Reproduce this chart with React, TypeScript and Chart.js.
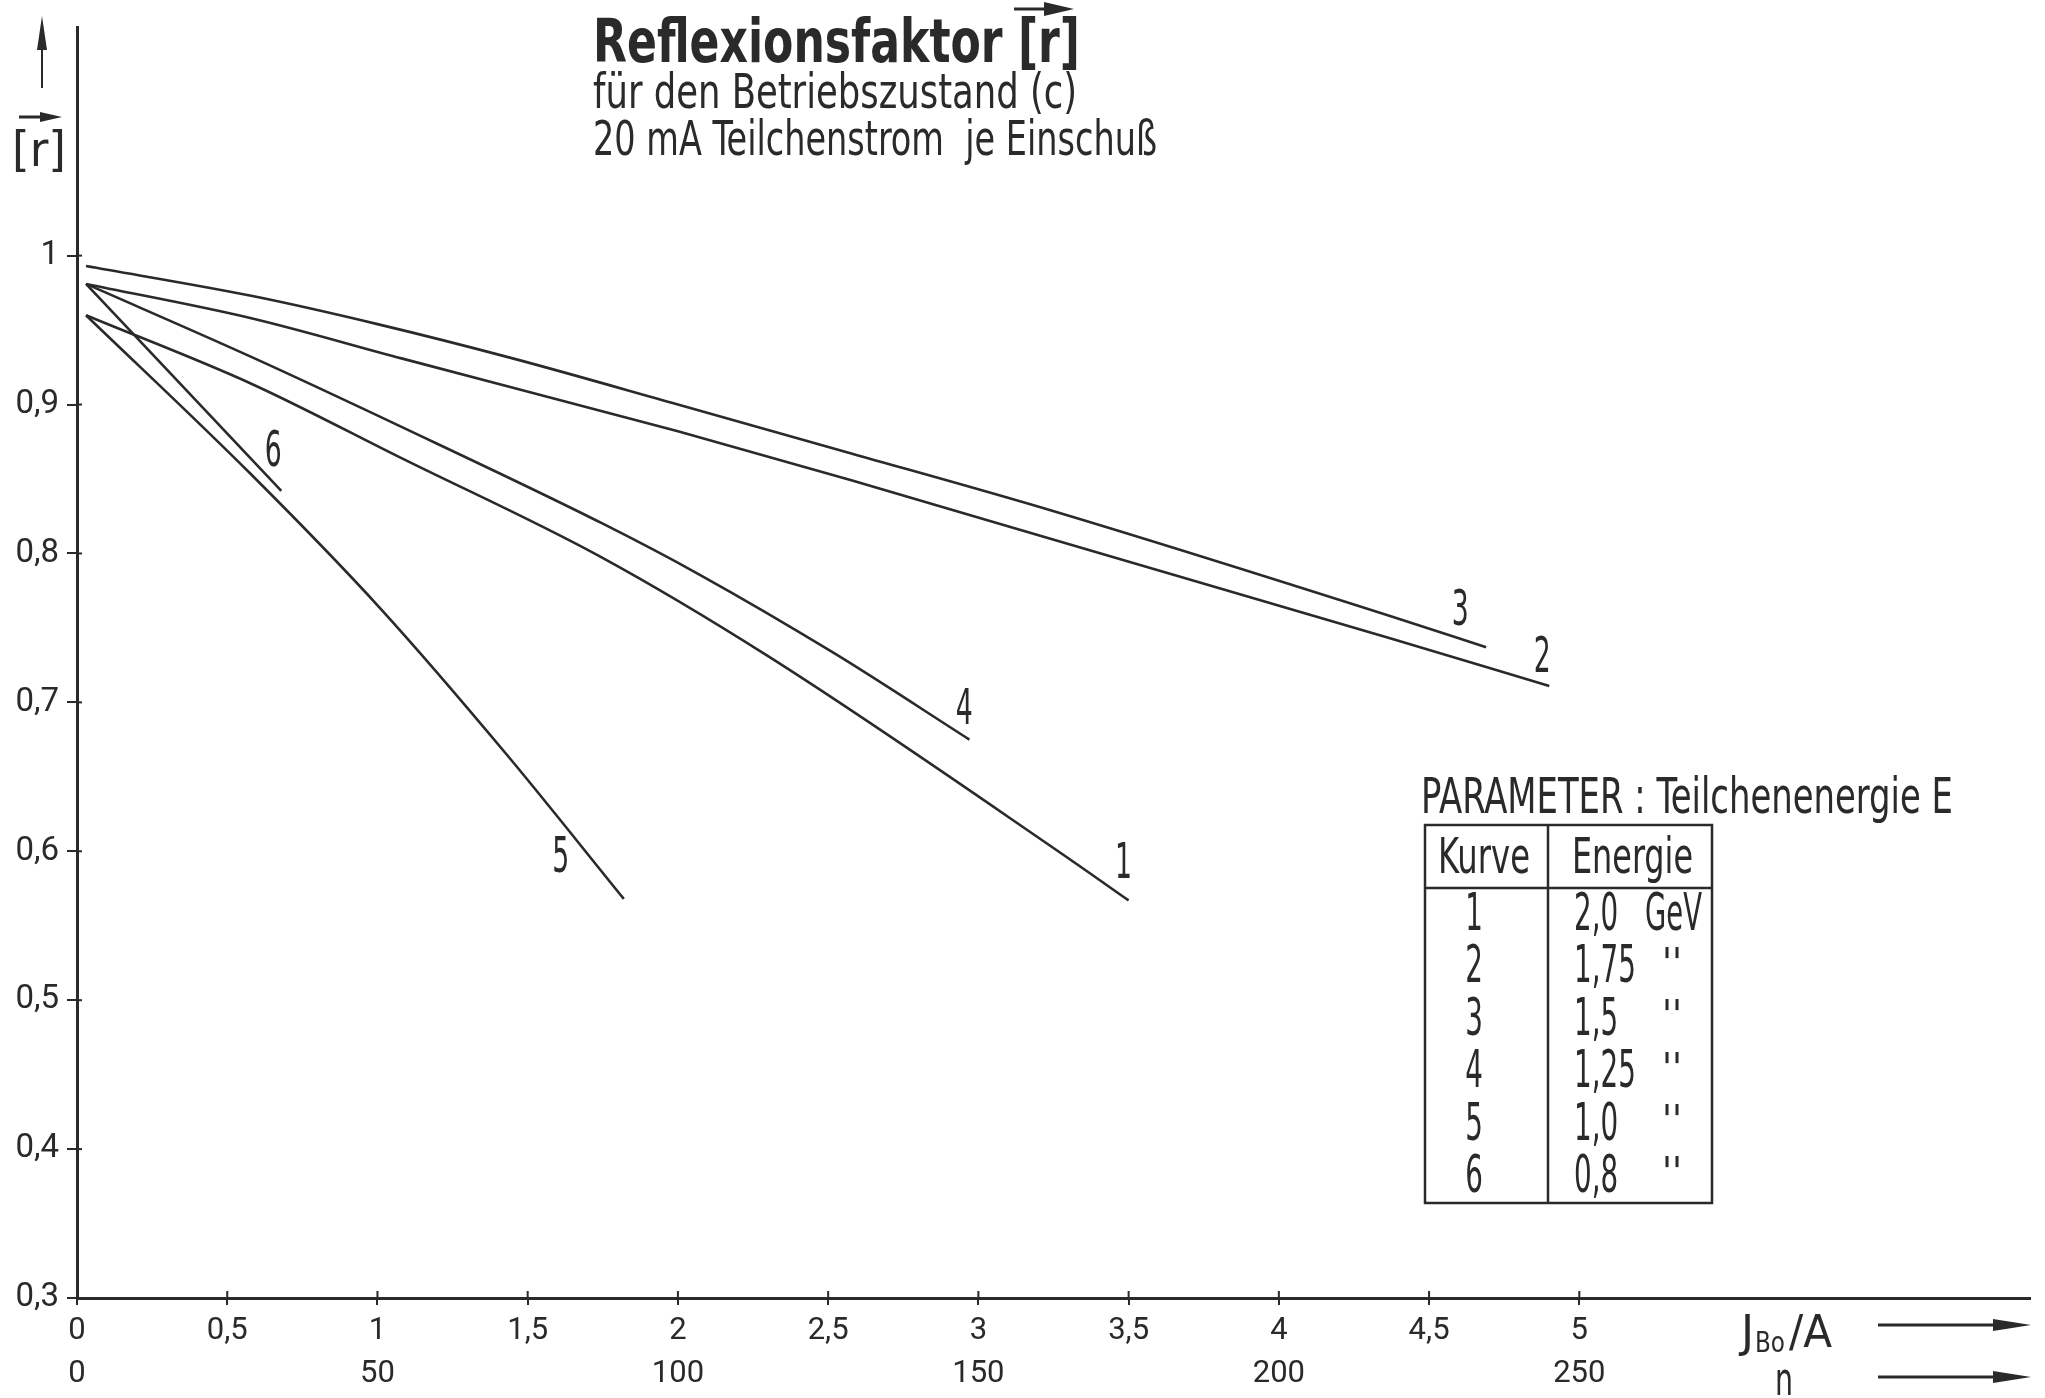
import React, { useEffect, useRef } from 'react';
import { Chart, registerables } from 'chart.js';

Chart.register(...registerables);

// ---------------- data ----------------
const curveIds = ['1', '2', '3', '4', '5', '6'];
const curveEnergies = ['2,0', '1,75', '1,5', '1,25', '1,0', '0,8'];
const energyUnit = 'GeV';
const dittoMark = "''";

// J_Bo / A  (x)  ->  reflection factor r (y)
const curve1J = [0.03, 0.58, 1.08, 1.74, 2.30, 3.28, 3.50];
const curve1R = [0.960, 0.914, 0.864, 0.798, 0.731, 0.598, 0.567];
const curve2J = [0.03, 0.58, 1.08, 2.0, 2.58, 3.22, 4.37, 4.90];
const curve2R = [0.981, 0.958, 0.931, 0.882, 0.849, 0.811, 0.743, 0.711];
const curve3J = [0.03, 0.58, 1.0, 1.45, 2.0, 2.58, 3.24, 4.37, 4.69];
const curve3R = [0.993, 0.973, 0.954, 0.931, 0.900, 0.867, 0.829, 0.758, 0.737];
const curve4J = [0.03, 0.58, 1.08, 1.75, 2.07, 2.52, 2.97];
const curve4R = [0.981, 0.932, 0.885, 0.820, 0.786, 0.733, 0.675];
const curve5J = [0.03, 0.58, 1.01, 1.43, 1.82];
const curve5R = [0.960, 0.853, 0.763, 0.665, 0.568];
const curve6J = [0.03, 0.68];
const curve6R = [0.981, 0.842];

const jTicks = [0, 0.5, 1, 1.5, 2, 2.5, 3, 3.5, 4, 4.5, 5];
const jTickLabels = ['0', '0,5', '1', '1,5', '2', '2,5', '3', '3,5', '4', '4,5', '5'];
const nTickLabels = ['0', '', '50', '', '100', '', '150', '', '200', '', '250'];
const rTicks = [0.3, 0.4, 0.5, 0.6, 0.7, 0.8, 0.9, 1.0];
const rTickLabels = ['0,3', '0,4', '0,5', '0,6', '0,7', '0,8', '0,9', '1'];

const titleText = 'Reflexionsfaktor [r]';
const subtitle1 = 'für den Betriebszustand (c)';
const subtitle2 = '20 mA Teilchenstrom  je Einschuß';
const yAxisText = '[r]';
const xAxisMain = 'J';
const xAxisSub = 'Bo';
const xAxisUnit = '/A';
const xAxisSecond = 'n';
const paramTitle = 'PARAMETER : Teilchenenergie E';
const tableHead1 = 'Kurve';
const tableHead2 = 'Energie';

// ---------------- styles ----------------
const INK = '#2a2a2a';
const FONT = '"Liberation Sans Narrow", "DejaVu Sans Condensed", "Liberation Sans", "DejaVu Sans", sans-serif';
const TICK_FONT = 'Roboto, "Liberation Sans", sans-serif';

const seriesJ = [curve1J, curve2J, curve3J, curve4J, curve5J, curve6J];
const seriesR = [curve1R, curve2R, curve3R, curve4R, curve5R, curve6R];
// label centre offsets (px) from the end of each curve
const labelOffsets: [number, number][] = [[-5, -35], [-7, -27], [-26, -35], [-5, -29], [-63, -40], [-8, -38]];

type TOpt = { align?: 'left' | 'center' | 'right'; baseline?: CanvasTextBaseline; bold?: boolean; width?: number; cond?: number };

function drawText(ctx: CanvasRenderingContext2D, text: string, x: number, y: number, size: number, o: TOpt = {}) {
  ctx.save();
  ctx.font = `${o.bold ? 'bold ' : ''}${size}px ${FONT}`;
  ctx.textBaseline = o.baseline || 'alphabetic';
  ctx.textAlign = 'left';
  const w0 = ctx.measureText(text).width;
  let sx: number;
  if (o.width) sx = o.width / w0;
  else {
    const d = ctx.measureText('0').width / size;
    sx = (o.cond ?? 0.345) / d;
  }
  const w = w0 * sx;
  let lx = x;
  if (o.align === 'center') lx = x - w / 2;
  else if (o.align === 'right') lx = x - w;
  ctx.translate(lx, y);
  ctx.scale(sx, 1);
  ctx.fillStyle = INK;
  ctx.fillText(text, 0, 0);
  ctx.restore();
}

function drawArrow(ctx: CanvasRenderingContext2D, x1: number, y1: number, x2: number, y2: number, head: number, half: number, lw: number) {
  const a = Math.atan2(y2 - y1, x2 - x1);
  const bx = x2 - head * Math.cos(a);
  const by = y2 - head * Math.sin(a);
  ctx.save();
  ctx.strokeStyle = INK;
  ctx.fillStyle = INK;
  ctx.lineWidth = lw;
  ctx.beginPath();
  ctx.moveTo(x1, y1);
  ctx.lineTo(bx + Math.cos(a) * 4, by + Math.sin(a) * 4);
  ctx.stroke();
  ctx.beginPath();
  ctx.moveTo(x2, y2);
  ctx.lineTo(bx - half * Math.sin(a), by + half * Math.cos(a));
  ctx.lineTo(bx + half * Math.sin(a), by - half * Math.cos(a));
  ctx.closePath();
  ctx.fill();
  ctx.restore();
}

const decorPlugin = {
  id: 'decor',
  afterDraw(chart: any) {
    const ctx: CanvasRenderingContext2D = chart.ctx;
    const xs = chart.scales.x;
    const ys = chart.scales.y;
    const area = chart.chartArea;

    // inner halves of the tick marks
    ctx.save();
    ctx.strokeStyle = INK;
    ctx.lineWidth = 2;
    jTicks.forEach((v) => {
      const p = xs.getPixelForValue(v);
      ctx.beginPath();
      ctx.moveTo(p, area.bottom);
      ctx.lineTo(p, area.bottom - 7);
      ctx.stroke();
    });
    rTicks.forEach((v) => {
      const p = ys.getPixelForValue(v);
      ctx.beginPath();
      ctx.moveTo(area.left, p);
      ctx.lineTo(area.left + 5, p);
      ctx.stroke();
    });
    ctx.restore();

    // curve numbers
    chart.data.datasets.forEach((_: any, i: number) => {
      const meta = chart.getDatasetMeta(i);
      const last = meta.data[meta.data.length - 1];
      const [dx, dy] = labelOffsets[i];
      drawText(ctx, curveIds[i], last.x + dx, last.y + dy, 50, { align: 'center', baseline: 'middle', cond: 0.34 });
    });

    // title block
    drawText(ctx, titleText, 593, 62, 60, { bold: true, width: 487 });
    drawArrow(ctx, 1014, 9, 1074, 9, 30, 7, 3);
    drawText(ctx, subtitle1, 593, 108, 48, { width: 484 });
    drawText(ctx, subtitle2, 593, 155, 48, { width: 564 });

    // y axis label
    drawArrow(ctx, 42, 88, 42, 16, 34, 5, 2);
    drawText(ctx, yAxisText, 12, 166, 48, { width: 54 });
    drawArrow(ctx, 19, 117, 62, 117, 22, 5, 3);

    // x axis labels
    drawText(ctx, xAxisMain, 1741, 1347, 44, { width: 13 });
    drawText(ctx, xAxisSub, 1755, 1352, 28, { width: 30 });
    drawText(ctx, xAxisUnit, 1789, 1347, 44, { width: 43 });
    drawArrow(ctx, 1878, 1325, 2031, 1325, 38, 6, 3);
    drawText(ctx, xAxisSecond, 1775, 1395, 46, { width: 18 });
    drawArrow(ctx, 1878, 1377, 2031, 1377, 38, 6, 3);

    // parameter table
    drawText(ctx, paramTitle, 1421, 813, 50, { width: 532 });
    ctx.save();
    ctx.strokeStyle = INK;
    ctx.lineWidth = 2.5;
    ctx.strokeRect(1425, 825, 287, 378);
    ctx.beginPath();
    ctx.moveTo(1548, 825);
    ctx.lineTo(1548, 1203);
    ctx.moveTo(1425, 888);
    ctx.lineTo(1712, 888);
    ctx.stroke();
    ctx.restore();
    drawText(ctx, tableHead1, 1438, 873, 50, { width: 92 });
    drawText(ctx, tableHead2, 1572, 873, 50, { width: 121 });
    curveIds.forEach((id, i) => {
      const base = 930 + i * 52.4;
      drawText(ctx, id, 1474, base, 52, { align: 'center', cond: 0.34 });
      drawText(ctx, curveEnergies[i], 1574, base, 52, { cond: 0.34 });
      if (i === 0) drawText(ctx, energyUnit, 1645, base, 52, { width: 57 });
      else drawText(ctx, dittoMark, 1662, base - 36, 40, { baseline: 'top', width: 20 });
    });
  },
};

export default function App() {
  const ref = useRef<HTMLCanvasElement>(null);

  useEffect(() => {
    if (!ref.current) return;
    const datasets = seriesJ.map((js, i) => ({
      label: 'Kurve ' + curveIds[i],
      data: js.map((x, k) => ({ x, y: seriesR[i][k] })),
      borderColor: INK,
      borderWidth: 2.6,
      pointRadius: 0,
      fill: false,
      cubicInterpolationMode: 'monotone' as const,
      clip: false as any,
    }));

    const findIdx = (arr: number[], v: number) => arr.findIndex((a) => Math.abs(a - v) < 1e-6);

    const chart = new Chart(ref.current, {
      type: 'line',
      data: { datasets },
      plugins: [decorPlugin],
      options: {
        responsive: false,
        animation: false,
        events: [],
        layout: { padding: { top: 13, right: 15, left: 0, bottom: 0 }, autoPadding: false },
        plugins: { legend: { display: false }, tooltip: { enabled: false }, title: { display: false } },
        scales: {
          x: {
            type: 'linear',
            position: 'bottom',
            min: 0,
            max: 6.5,
            afterFit: (s: any) => { s.height = 100; },
            afterBuildTicks: (s: any) => { s.ticks = jTicks.map((v) => ({ value: v })); },
            ticks: {
              autoSkip: false,
              maxRotation: 0,
              color: INK,
              padding: 5,
              font: { family: TICK_FONT, size: 31, lineHeight: '43px' },
              callback: (v: any) => {
                const i = findIdx(jTicks, Number(v));
                return i < 0 ? '' : [jTickLabels[i], nTickLabels[i]];
              },
            },
            grid: { drawOnChartArea: false, drawTicks: true, tickLength: 7, color: INK, lineWidth: 2 },
            border: { display: true, color: INK, width: 3 },
          },
          y: {
            type: 'linear',
            min: 0.3,
            max: 1.153,
            afterFit: (s: any) => { s.width = 77; },
            afterBuildTicks: (s: any) => { s.ticks = rTicks.map((v) => ({ value: v })); },
            ticks: {
              autoSkip: false,
              color: INK,
              padding: 8,
              font: { family: TICK_FONT, size: 33 },
              callback: (v: any) => {
                const i = findIdx(rTicks, Number(v));
                return i < 0 ? '' : rTickLabels[i];
              },
            },
            grid: { drawOnChartArea: false, drawTicks: true, tickLength: 10, color: INK, lineWidth: 2 },
            border: { display: true, color: INK, width: 3 },
          },
        },
      } as any,
    });
    return () => chart.destroy();
  }, []);

  return (
    <div style={{ position: 'absolute', left: 0, top: 0, width: 2045, height: 1398, background: '#fff' }}>
      <canvas ref={ref} width={2045} height={1398} style={{ display: 'block', width: 2045, height: 1398 }} />
    </div>
  );
}
